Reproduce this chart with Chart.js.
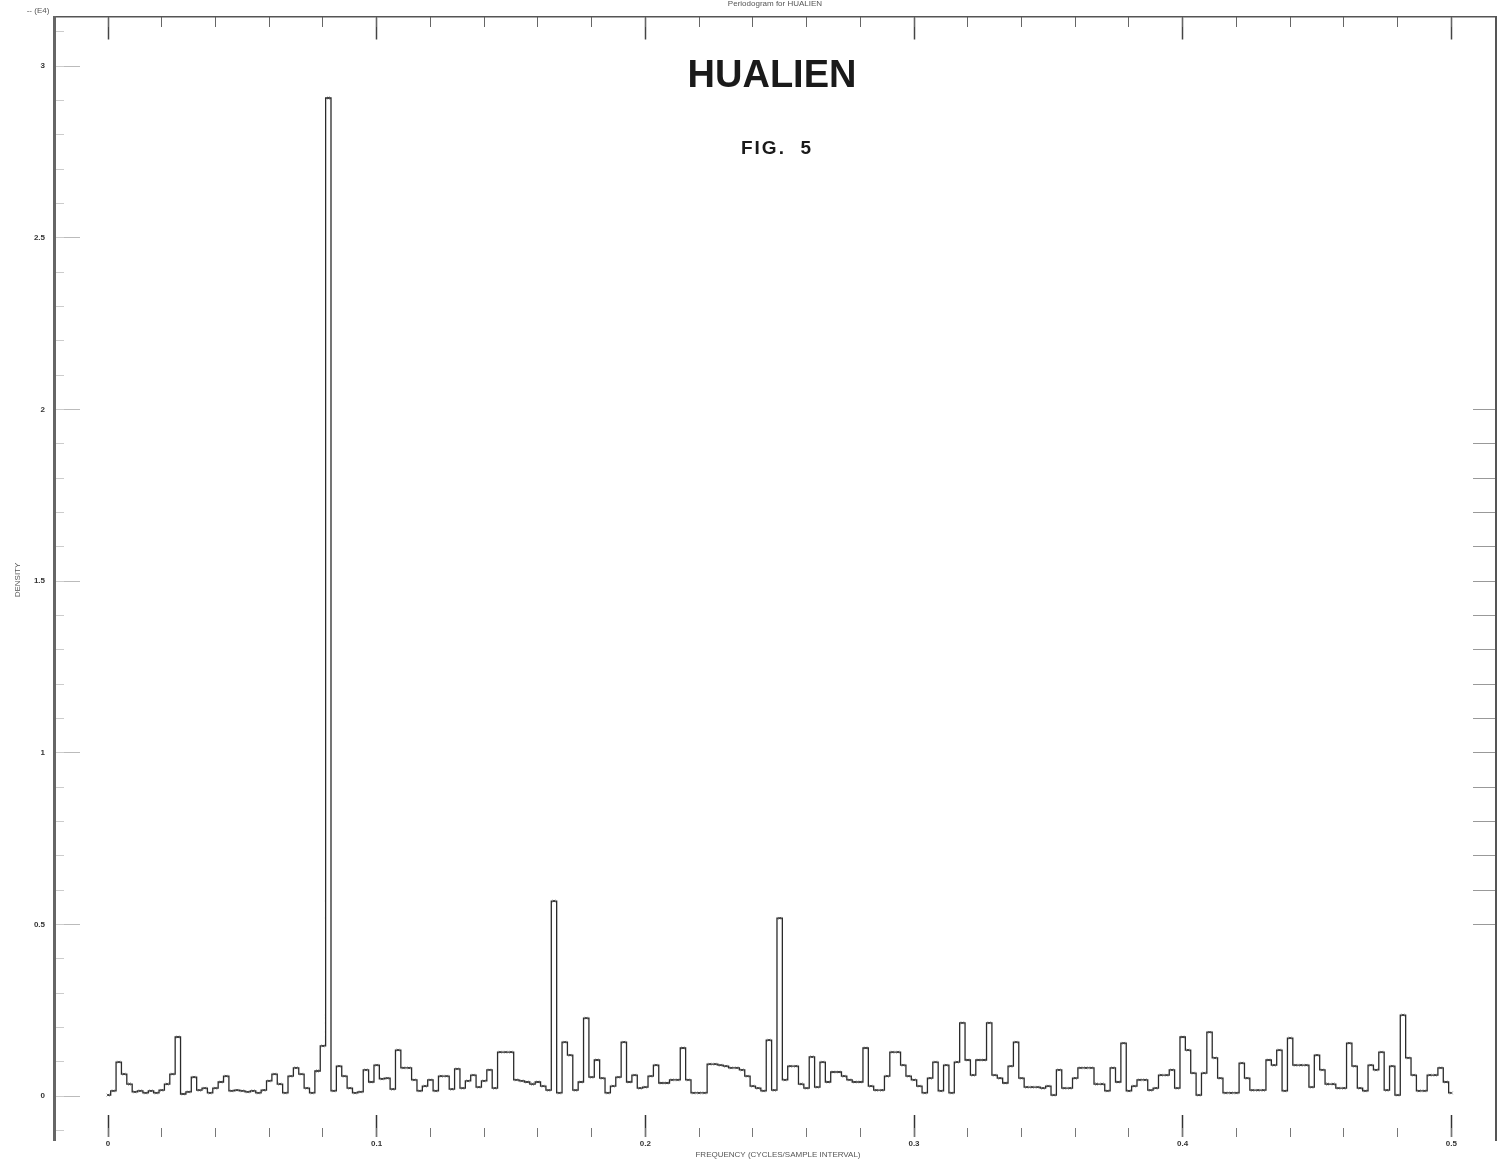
<!DOCTYPE html>
<html>
<head>
<meta charset="utf-8">
<script src="https://cdn.jsdelivr.net/npm/chart.js@4"></script>
<style>
  body { margin: 0; background: #fff; }
  #wrap { width: 1501px; height: 1160px; }
</style>
</head>
<body>
<div id="wrap"><canvas id="myChart" width="1501" height="1160"></canvas></div>
<script>
// frequency grid step (cycles per interval) and periodogram values (E4 units)
const freqStep = 0.002;
const density = [
  0.003, 0.015, 0.099, 0.064, 0.035, 0.012, 0.015, 0.009, 0.015, 0.009,
  0.017, 0.035, 0.064, 0.172, 0.006, 0.012, 0.055, 0.017, 0.023, 0.009,
  0.023, 0.041, 0.058, 0.015, 0.017, 0.015, 0.012, 0.015, 0.009, 0.017,
  0.044, 0.064, 0.035, 0.009, 0.058, 0.082, 0.064, 0.023, 0.009, 0.073,
  0.146, 2.907, 0.015, 0.087, 0.058, 0.023, 0.009, 0.012, 0.076, 0.041,
  0.090, 0.050, 0.052, 0.020, 0.134, 0.082, 0.082, 0.047, 0.015, 0.029,
  0.047, 0.015, 0.058, 0.058, 0.020, 0.079, 0.023, 0.044, 0.061, 0.026,
  0.044, 0.076, 0.023, 0.128, 0.128, 0.128, 0.047, 0.044, 0.041, 0.035,
  0.041, 0.029, 0.017, 0.568, 0.009, 0.157, 0.119, 0.017, 0.041, 0.227,
  0.055, 0.105, 0.052, 0.009, 0.029, 0.055, 0.157, 0.041, 0.061, 0.023,
  0.026, 0.058, 0.090, 0.038, 0.038, 0.047, 0.047, 0.140, 0.047, 0.009,
  0.009, 0.009, 0.093, 0.093, 0.090, 0.087, 0.082, 0.082, 0.076, 0.058,
  0.029, 0.023, 0.015, 0.163, 0.017, 0.518, 0.047, 0.087, 0.087, 0.035,
  0.023, 0.114, 0.026, 0.099, 0.041, 0.070, 0.070, 0.058, 0.047, 0.041,
  0.041, 0.140, 0.029, 0.017, 0.017, 0.058, 0.128, 0.128, 0.090, 0.058,
  0.047, 0.029, 0.009, 0.052, 0.099, 0.015, 0.090, 0.009, 0.099, 0.213,
  0.105, 0.061, 0.105, 0.105, 0.213, 0.061, 0.052, 0.038, 0.087, 0.157,
  0.052, 0.026, 0.026, 0.026, 0.023, 0.029, 0.003, 0.076, 0.023, 0.023,
  0.052, 0.082, 0.082, 0.082, 0.035, 0.035, 0.015, 0.082, 0.041, 0.154,
  0.015, 0.029, 0.047, 0.047, 0.017, 0.023, 0.061, 0.061, 0.076, 0.023,
  0.172, 0.134, 0.067, 0.003, 0.067, 0.186, 0.111, 0.052, 0.009, 0.009,
  0.009, 0.096, 0.052, 0.017, 0.017, 0.017, 0.105, 0.090, 0.134, 0.015,
  0.169, 0.090, 0.090, 0.090, 0.026, 0.119, 0.076, 0.035, 0.035, 0.023,
  0.023, 0.154, 0.087, 0.023, 0.015, 0.090, 0.076, 0.128, 0.017, 0.087,
  0.003, 0.236, 0.111, 0.061, 0.015, 0.015, 0.061, 0.061, 0.082, 0.041,
  0.009
];
const points = density.map((v, i) => ({x: +(i * freqStep).toFixed(3), y: v}));

const xMin = -0.0201, xMax = 0.5167;
const yMin = -0.128, yMax = 3.143;

const zeroH = s => { s.height = 0; };
const zeroW = s => { s.width = 0; };
const fmt = v => (Math.abs(v) < 1e-9 ? '0' : (Math.round(v * 10) / 10).toString());
const tickFont = {family: 'Liberation Sans', size: 8, weight: 'bold'};

const texts = {
  id: 'texts',
  afterDraw(chart) {
    const ctx = chart.ctx;
    ctx.save();
    ctx.fillStyle = '#1a1a1a';
    ctx.textAlign = 'center';
    ctx.textBaseline = 'middle';
    ctx.font = 'bold 38px "Liberation Sans"';
    ctx.fillText('HUALIEN', 772, 77);
    ctx.font = 'bold 19px "Liberation Sans"';
    ctx.letterSpacing = '2px';
    ctx.fillText('FIG.  5', 777, 149);
    ctx.letterSpacing = '0px';
    ctx.fillStyle = '#555';
    ctx.font = '8px "Liberation Sans"';
    ctx.fillText('Periodogram for HUALIEN', 775, 4);
    ctx.fillText('-- (E4)', 38, 11);
    ctx.fillText('FREQUENCY (CYCLES/SAMPLE INTERVAL)', 778, 1155);
    ctx.translate(18, 580);
    ctx.rotate(-Math.PI / 2);
    ctx.fillText('DENSITY', 0, 0);
    ctx.restore();
  }
};

const ctx = document.getElementById('myChart').getContext('2d');
const myChart = new Chart(ctx, {
  type: 'line',
  data: {
    datasets: [{
      label: 'HUALIEN',
      data: points,
      stepped: 'middle',
      borderColor: '#2b2b2b',
      borderWidth: 1.3,
      pointStyle: 'crossRot',
      pointRadius: 1.8,
      pointBorderWidth: 0.8,
      pointBorderColor: '#333',
      xAxisID: 'x',
      yAxisID: 'y'
    }]
  },
  options: {
    responsive: false,
    animation: false,
    layout: {padding: {top: 17, right: 4, bottom: 20, left: 0}},
    plugins: {legend: {display: false}, tooltip: {enabled: false}},
    scales: {
      // bottom major ticks with labels
      x: {
        type: 'linear', min: xMin, max: xMax,
        position: {y: -0.0553},
        afterFit: zeroH,
        border: {display: false},
        grid: {drawOnChartArea: false, tickLength: 22, tickColor: '#333', tickWidth: 1.5},
        ticks: {stepSize: 0.1, includeBounds: false, autoSkip: false, padding: 2,
                color: '#333', font: tickFont, callback: fmt, maxRotation: 0}
      },
      xMinor: {
        axis: 'x', type: 'linear', min: xMin, max: xMax,
        position: {y: -0.0932},
        afterFit: zeroH,
        border: {display: false},
        grid: {drawOnChartArea: false, tickLength: 9, tickColor: '#777', tickWidth: 1},
        ticks: {stepSize: 0.02, includeBounds: false, autoSkip: false, display: false}
      },
      // top frame line and its inward ticks
      xTop: {
        axis: 'x', type: 'linear', min: xMin, max: xMax,
        position: {y: yMax},
        afterFit: zeroH,
        border: {display: true, color: '#555', width: 1.5},
        grid: {drawOnChartArea: false, tickLength: 22, tickColor: '#444', tickWidth: 1.5},
        ticks: {stepSize: 0.1, includeBounds: false, autoSkip: false, display: false}
      },
      xTopMinor: {
        axis: 'x', type: 'linear', min: xMin, max: xMax,
        position: {y: yMax},
        afterFit: zeroH,
        border: {display: false},
        grid: {drawOnChartArea: false, tickLength: 10, tickColor: '#666', tickWidth: 1},
        ticks: {stepSize: 0.02, includeBounds: false, autoSkip: false, display: false}
      },
      // left frame line with labels
      y: {
        type: 'linear', min: yMin, max: yMax,
        position: 'left',
        afterFit: s => { s.width = 54; },
        border: {display: true, color: '#666', width: 3},
        grid: {drawOnChartArea: false, drawTicks: false},
        ticks: {stepSize: 0.5, includeBounds: false, autoSkip: false, padding: 9,
                color: '#333', font: tickFont, callback: fmt}
      },
      yTicks: {
        axis: 'y', type: 'linear', min: yMin, max: yMax,
        position: {x: -0.0104},
        afterFit: zeroW,
        border: {display: false},
        grid: {drawOnChartArea: false, tickLength: 26, tickColor: '#bbb', tickWidth: 1},
        ticks: {stepSize: 0.5, includeBounds: false, autoSkip: false, display: false}
      },
      yTicksMinor: {
        axis: 'y', type: 'linear', min: yMin, max: yMax,
        position: {x: -0.0164},
        afterFit: zeroW,
        border: {display: false},
        grid: {drawOnChartArea: false, tickLength: 10, tickColor: '#ccc', tickWidth: 1},
        ticks: {stepSize: 0.1, includeBounds: false, autoSkip: false, display: false}
      },
      // right frame line with a few inward ticks
      yRight: {
        axis: 'y', type: 'linear', min: yMin, max: yMax,
        position: {x: xMax},
        afterFit: zeroW,
        afterBuildTicks: s => { s.ticks = s.ticks.filter(t => t.value >= 0.45 && t.value <= 2.05); },
        border: {display: true, color: '#555', width: 2},
        grid: {drawOnChartArea: false, tickLength: 22, tickColor: '#999', tickWidth: 1},
        ticks: {stepSize: 0.1, includeBounds: false, autoSkip: false, display: false}
      }
    }
  },
  plugins: [texts]
});
</script>
</body>
</html>
